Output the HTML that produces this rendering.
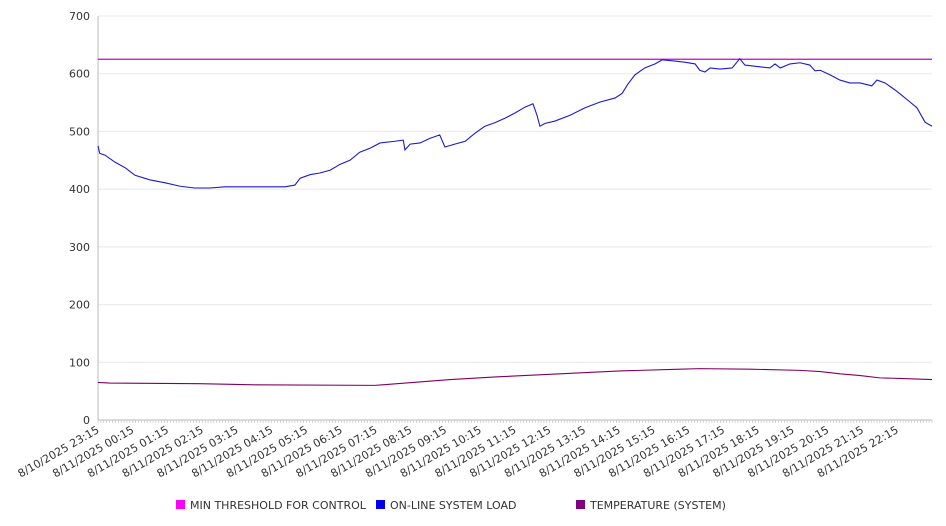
<!DOCTYPE html>
<html><head><meta charset="utf-8"><style>
body{margin:0;background:#fff;font-family:"DejaVu Sans","Liberation Sans",sans-serif}
svg{display:block;font-family:"DejaVu Sans","Liberation Sans",sans-serif}
</style></head><body>
<svg id="chart" width="946" height="526"></svg>
<script>
const tickLabels=["8/10/2025 23:15","8/11/2025 00:15","8/11/2025 01:15","8/11/2025 02:15","8/11/2025 03:15","8/11/2025 04:15","8/11/2025 05:15","8/11/2025 06:15","8/11/2025 07:15","8/11/2025 08:15","8/11/2025 09:15","8/11/2025 10:15","8/11/2025 11:15","8/11/2025 12:15","8/11/2025 13:15","8/11/2025 14:15","8/11/2025 15:15","8/11/2025 16:15","8/11/2025 17:15","8/11/2025 18:15","8/11/2025 19:15","8/11/2025 20:15","8/11/2025 21:15","8/11/2025 22:15"];
const yTicks=[0,100,200,300,400,500,600,700];
const loadMinutes=[0,3,12,29,47,64,90,116,142,167,193,219,245,271,297,323,340,349,366,383,401,418,435,452,470,487,513,527,530,539,556,573,590,599,616,634,651,668,685,703,720,737,751,758,763,772,789,815,841,867,893,905,915,927,944,962,974,996,1013,1031,1039,1048,1057,1074,1095,1108,1117,1143,1160,1169,1178,1195,1212,1229,1238,1247,1264,1281,1298,1316,1336,1345,1359,1376,1385,1402,1414,1428,1440];
const loadValues=[475,462,459,447,437,424,416,411,405,402,402,404,404,404,404,404,407,419,425,428,433,443,450,464,471,480,483,485,468,478,480,488,494,473,478,483,497,509,515,523,532,542,548,528,509,514,518,528,541,551,558,566,582,598,610,617,624,622,620,617,606,603,610,608,610,626,615,612,610,617,610,617,619,615,605,606,598,589,584,584,579,589,584,572,565,551,541,516,509];
const tempMinutes=[0,20,176,271,478,608,694,798,901,1005,1039,1126,1212,1247,1281,1316,1350,1385,1440];
const tempValues=[65,64,63,61,60,70,75,80,85,88,89,88,86,84,80,77,73,72,70];
const thresholdValue=625;
const ns="http://www.w3.org/2000/svg",svg=document.getElementById("chart");
const X0=98,X1=932,Y0=420,Y1=16;
const xS=m=>X0+(m/1440)*(X1-X0), yS=v=>Y0-(v/700)*(Y0-Y1);
function mk(t,a,p){const e=document.createElementNS(ns,t);for(const k in a)e.setAttribute(k,a[k]);(p||svg).appendChild(e);return e;}
yTicks.forEach(v=>{
 const g=mk("line",{x1:X0,x2:X1,y1:yS(v),y2:yS(v),stroke:v===0?"#bbb":"#e8e8e8","stroke-width":1});
 
 
 const t=mk("text",{x:90,y:yS(v)+4,"text-anchor":"end","font-size":11,fill:"#333"});t.textContent=v;
 
 
});
const ax=mk("line",{x1:X0,x2:X0,y1:Y1,y2:Y0,stroke:"#bbb"});


for(let m=0;m<=1440;m+=5){const tk=mk("line",{x1:xS(m),x2:xS(m),y1:Y0,y2:Y0+3,stroke:"#bbb","stroke-width":0.6});
 
 }
tickLabels.forEach((l,i)=>{const x=xS(i*60)+2,y=Y0+12;
 const t=mk("text",{x:x,y:y,"text-anchor":"end","font-size":11,fill:"#333",transform:`rotate(-30 ${x} ${y})`});t.textContent=l;
 
 });
const th=mk("line",{x1:X0,x2:X1,y1:yS(thresholdValue),y2:yS(thresholdValue),stroke:"#cc00cc","stroke-width":1.2});


function path(ms,vs,c,n){const p=mk("polyline",{points:ms.map((m,i)=>xS(m)+","+yS(vs[i])).join(" "),fill:"none",stroke:c,"stroke-width":1.1});
 
 }
path(loadMinutes,loadValues,"#1a1ad0","system-load-line");
path(tempMinutes,tempValues,"#800060","temperature-line");
[["MIN THRESHOLD FOR CONTROL","#ff00ff",176],["ON-LINE SYSTEM LOAD","#0000ee",376],["TEMPERATURE (SYSTEM)","#800080",576]].forEach(([l,c,x])=>{
 const r=mk("rect",{x:x,y:500,width:9,height:9,fill:c});
 
 
 const t=mk("text",{x:x+14,y:509,"font-size":11,fill:"#333"});t.textContent=l;
 
 });
</script>
</body></html>
